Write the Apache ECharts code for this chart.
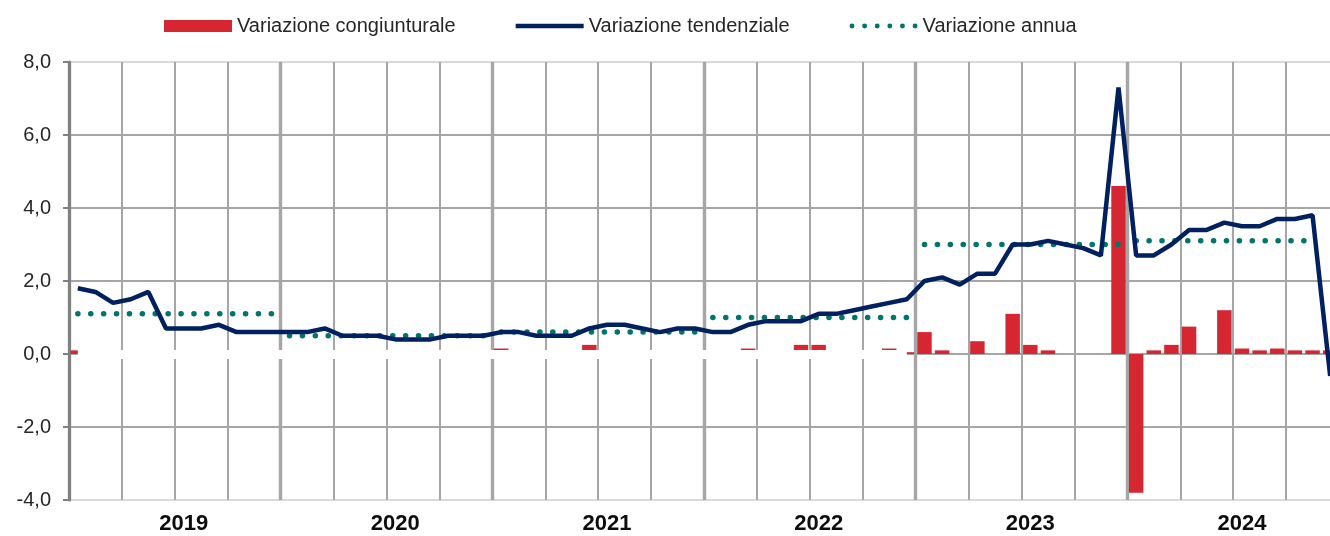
<!DOCTYPE html>
<html>
<head>
<meta charset="utf-8">
<script src="https://cdn.jsdelivr.net/npm/echarts@6/dist/echarts.min.js"></script>
<style>
  html, body { margin: 0; padding: 0; background: #fff; }
  #main { width: 1330px; height: 536px; }
</style>
</head>
<body>
<div id="main"></div>
<script>
// anni e mesi sull'asse
var years = ['2019', '2020', '2021', '2022', '2023', '2024'];
var yTicks = [-4, -2, 0, 2, 4, 6, 8];

// variazione congiunturale (barre), gen 2019 - dic 2024
var congiunturale = [
  0.1, 0, 0, 0, 0, 0, 0, 0, 0, 0, 0, 0,
  0, 0, 0, 0, 0, 0, 0, 0, 0, 0, 0, 0,
  0.15, 0, 0, 0, 0, 0.25, 0, 0, 0, 0, 0, 0,
  0, 0, 0.15, 0, 0, 0.25, 0.25, 0, 0, 0, 0.15, 0.05,
  0.6, 0.1, 0, 0.35, 0, 1.1, 0.25, 0.1, 0, 0, 0, 4.6,
  -3.8, 0.1, 0.25, 0.75, 0, 1.2, 0.15, 0.1, 0.15, 0.1, 0.1, 0.1
];

// variazione tendenziale (linea)
var tendenziale = [
  1.8, 1.7, 1.4, 1.5, 1.7, 0.7, 0.7, 0.7, 0.8, 0.6, 0.6, 0.6,
  0.6, 0.6, 0.7, 0.5, 0.5, 0.5, 0.4, 0.4, 0.4, 0.5, 0.5, 0.5,
  0.6, 0.6, 0.5, 0.5, 0.5, 0.7, 0.8, 0.8, 0.7, 0.6, 0.7, 0.7,
  0.6, 0.6, 0.8, 0.9, 0.9, 0.9, 1.1, 1.1, 1.2, 1.3, 1.4, 1.5,
  2.0, 2.1, 1.9, 2.2, 2.2, 3.0, 3.0, 3.1, 3.0, 2.9, 2.7, 7.3,
  2.7, 2.7, 3.0, 3.4, 3.4, 3.6, 3.5, 3.5, 3.7, 3.7, 3.8, -0.6
];

// variazione annua (media dell'anno) e mesi coperti
var annua = [1.1, 0.5, 0.6, 1.0, 3.0, 3.1];
var annuaMesi = [12, 12, 12, 12, 12, 11];

var FONT = "'Liberation Sans', Arial, sans-serif";
var RED = '#d52632', NAVY = '#002060', TEAL = '#00756b';
var GRID = '#a6a6a6', LIGHT = '#d9d9d9';

var months = [];
years.forEach(function (y) {
  for (var m = 1; m <= 12; m++) months.push(y + '-' + (m < 10 ? '0' + m : m));
});

// icone della legenda: trattino pieno e puntini
var lineIcon = 'path://M0,0H68V4.5H0Z';
var dotIcon = 'path://';
for (var k = 0; k < 6; k++) {
  var cx = 2.5 + k * 12.8;
  dotIcon += 'M' + (cx - 2.5) + ',2.5A2.5,2.5 0 1,1 ' + (cx + 2.5) + ',2.5A2.5,2.5 0 1,1 ' + (cx - 2.5) + ',2.5Z';
}

var myChart = echarts.init(document.getElementById('main'));

// una serie a puntini per ogni anno, cosi' i segmenti restano staccati
var annuaSeries = annua.map(function (v, k) {
  var data = months.map(function (_, i) {
    var start = k * 12;
    return (i >= start && i < start + annuaMesi[k]) ? v : null;
  });
  return {
    name: 'Variazione annua',
    type: 'line',
    data: data,
    symbol: 'none',
    z: 6,
    lineStyle: { color: TEAL, width: 5.5, type: [0.1, 12.8], cap: 'round' },
    itemStyle: { color: TEAL }
  };
});

var option = {
  animation: false,
  backgroundColor: '#fff',
  legend: {
    left: 159,
    top: 11,
    itemWidth: 68,
    itemHeight: 12,
    itemGap: 60,
    data: [
      { name: 'Variazione congiunturale', icon: 'rect' },
      { name: 'Variazione tendenziale', icon: lineIcon },
      { name: 'Variazione annua', icon: dotIcon }
    ],
    textStyle: { fontFamily: FONT, fontSize: 20, color: '#262626' }
  },
  grid: { left: 69, right: -9, top: 62, bottom: 36, outerBoundsMode: 'none', containLabel: false },
  xAxis: [{
    type: 'category',
    data: months,
    boundaryGap: true,
    axisLine: { show: false, onZero: false },
    axisTick: { show: false },
    axisLabel: {
      interval: function (idx) { return idx % 12 === 6; },
      formatter: function (v) { return v.slice(0, 4); },
      margin: 13,
      fontFamily: FONT, fontSize: 22, fontWeight: 'bold', color: '#0d0d0d'
    },
    splitLine: { show: true, interval: 2, lineStyle: { color: GRID, width: 2 } }
  }, {
    type: 'category',
    data: months,
    boundaryGap: true,
    position: 'bottom',
    axisLine: { show: false, onZero: false },
    axisTick: { show: false },
    axisLabel: { show: false },
    splitLine: { show: true, interval: 11, lineStyle: { color: GRID, width: 3.4 } }
  }],
  yAxis: {
    type: 'value',
    min: yTicks[0],
    max: yTicks[yTicks.length - 1],
    interval: 2,
    axisLine: { show: true, lineStyle: { color: '#808080', width: 3 } },
    axisTick: { show: true, length: 6, lineStyle: { color: '#808080', width: 2 } },
    axisLabel: {
      margin: 18,
      fontFamily: FONT, fontSize: 20, color: '#262626',
      formatter: function (v) { return v.toFixed(1).replace('.', ','); }
    },
    splitLine: {
      show: true,
      lineStyle: { color: [LIGHT, GRID, GRID, GRID, GRID, GRID, LIGHT], width: 2 }
    }
  },
  series: [{
    name: 'Variazione congiunturale',
    type: 'bar',
    data: congiunturale,
    barCategoryGap: '18%',
    itemStyle: { color: RED },
    markLine: {
      silent: true,
      symbol: 'none',
      label: { show: false },
      lineStyle: { color: '#fff', width: 9, type: 'solid' },
      data: [[{ coord: [months[0], 0] }, { coord: [months[47], 0] }]]
    }
  }, {
    name: 'Variazione tendenziale',
    type: 'line',
    data: tendenziale,
    symbol: 'none',
    z: 7,
    lineStyle: { color: NAVY, width: 4.5 },
    itemStyle: { color: NAVY }
  }].concat(annuaSeries)
};

myChart.setOption(option);
</script>
</body>
</html>
